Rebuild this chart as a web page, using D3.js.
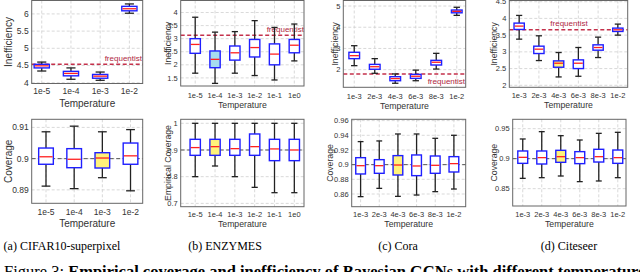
<!DOCTYPE html>
<meta charset="utf-8">
<style>
  body { margin: 0; background: #fff; }
  svg text { font-family: "Liberation Sans", Arial, sans-serif; fill: #333; }
  .cap { font-family: "Liberation Serif", "Times New Roman", serif; fill: #000; }
</style>
<script src="https://d3js.org/d3.v7.min.js"></script>
<svg id="fig" width="640" height="272"></svg>
<script>

// temperature categories
var tempsA = ["1e-5", "1e-4", "1e-3", "1e-2"];
var tempsB = ["1e-5", "1e-4", "1e-3", "1e-2", "1e-1", "1e0"];
var tempsCD = ["1e-3", "2e-3", "4e-3", "6e-3", "8e-3", "1e-2"];

// box stats per category: [whisker low, q1, median, q3, whisker high]
var ineffA = [[4.34, 4.43, 4.49, 4.535, 4.60], [4.10, 4.20, 4.27, 4.33, 4.43],
              [4.07, 4.13, 4.19, 4.24, 4.31], [6.02, 6.09, 6.15, 6.22, 6.29]];
var ineffB = [[1.68, 2.44, 2.78, 3.00, 3.82], [1.29, 1.89, 2.21, 2.53, 3.25],
              [1.68, 2.18, 2.46, 2.72, 3.27], [1.59, 2.30, 2.66, 2.97, 3.69],
              [1.42, 2.00, 2.41, 2.80, 3.43], [2.15, 2.46, 2.75, 2.97, 3.56]];
var ineffC = [[2.19, 2.52, 2.66, 2.82, 3.13], [1.83, 2.02, 2.14, 2.25, 2.52],
              [1.36, 1.48, 1.58, 1.67, 1.80], [1.48, 1.59, 1.69, 1.78, 1.98],
              [2.03, 2.22, 2.35, 2.44, 2.77], [4.56, 4.68, 4.75, 4.81, 4.94]];
var ineffD = [[3.38, 3.67, 3.77, 3.86, 4.09], [2.74, 2.95, 3.08, 3.17, 3.48],
              [2.25, 2.54, 2.66, 2.73, 2.98], [2.27, 2.50, 2.66, 2.76, 3.13],
              [2.83, 3.05, 3.13, 3.21, 3.44], [3.50, 3.61, 3.66, 3.71, 3.83]];

var covA = [[0.8912, 0.8982, 0.9006, 0.9034, 0.9086], [0.8904, 0.8971, 0.8998, 0.9032, 0.9104],
            [0.8939, 0.8970, 0.9002, 0.9019, 0.9086], [0.8897, 0.8982, 0.9009, 0.9050, 0.9093]];
var covB = [[0.80, 0.88, 0.909, 0.94, 1.0], [0.84, 0.88, 0.9125, 0.94, 1.0],
            [0.80, 0.88, 0.905, 0.94, 1.0], [0.76, 0.88, 0.9125, 0.96, 1.0],
            [0.74, 0.86, 0.904, 0.94, 1.0], [0.74, 0.86, 0.900, 0.94, 1.0]];
var covC = [[0.8564, 0.8873, 0.8986, 0.9095, 0.9314], [0.8677, 0.8882, 0.8986, 0.9068, 0.9323],
            [0.8568, 0.8859, 0.8995, 0.9123, 0.9418], [0.8586, 0.8850, 0.8982, 0.9132, 0.9418],
            [0.8632, 0.8882, 0.8991, 0.9118, 0.9359], [0.8668, 0.8900, 0.9014, 0.9109, 0.9400]];
var covD = [[0.8672, 0.8922, 0.9022, 0.9128, 0.9328], [0.8683, 0.8911, 0.9017, 0.9128, 0.9450],
            [0.8711, 0.8939, 0.9033, 0.9139, 0.9383], [0.8617, 0.8917, 0.9017, 0.9117, 0.9311],
            [0.8628, 0.8944, 0.9033, 0.9156, 0.9422], [0.8683, 0.8922, 0.9017, 0.9144, 0.9439]];

// frequentist inefficiency and target coverage
var freqIneff = [4.535, 3.13, 1.80, 3.66];
var targetCov = 0.9;

// y tick labels
var ticksTop = [[4, 4.5, 5, 5.5, 6], [1.5, 2, 2.5, 3, 3.5, 4], [2, 3, 4, 5], [2, 2.5, 3, 3.5, 4, 4.5]];
var ticksBot = [[0.89, 0.9, 0.91], [0.7, 0.8, 0.9, 1], [0.86, 0.88, 0.9, 0.92, 0.94, 0.96], [0.85, 0.9, 0.95]];

var captions = ["(a) CIFAR10-superpixel", "(b) ENZYMES", "(c) Cora", "(d) Citeseer"];

var svg = d3.select("#fig");

// layout of each panel (frame box, y domain, category padding, fonts)
var panels = [
  {cats: tempsA, data: ineffA, ref: freqIneff[0], freq: true, ticks: ticksTop[0], ylab: "Inefficiency",
   x0: 31.7, x1: 142.7, y0: 0.5, y1: 83.5, dom: [3.977, 6.39], pad: 0.4, align: 0.43,
   fs: 8.5, ls: 10, tickY: 94, labY: 107, ylabX: 8, hi: -1, fill: null,
   flab: {x: 142, y: 61, anchor: "end"}},
  {cats: tempsB, data: ineffB, ref: freqIneff[1], freq: true, ticks: ticksTop[1], ylab: "Inefficiency",
   x0: 180.7, x1: 304, y0: 0.5, y1: 86, dom: [1.19, 4.46], pad: 0.61, align: 0.6,
   fs: 7.5, ls: 8.7, tickY: 97.5, labY: 108, ylabX: 168, hi: 1, fill: "#a6dcef",
   flab: {x: 304, y: 32, anchor: "end"}},
  {cats: tempsCD, data: ineffC, ref: freqIneff[2], freq: true, ticks: ticksTop[2], ylab: "Inefficiency",
   x0: 343.3, x1: 465.7, y0: 0.5, y1: 87.3, dom: [1.17, 5.26], pad: 0.485, align: 0.55,
   fs: 7.5, ls: 8.7, tickY: 99, labY: 109, ylabX: 335, hi: -1, fill: null,
   flab: {x: 465, y: 83.5, anchor: "end"}},
  {cats: tempsCD, data: ineffD, ref: freqIneff[3], freq: true, ticks: ticksTop[3], ylab: "Inefficiency",
   x0: 509.3, x1: 627.7, y0: 0.5, y1: 87.3, dom: [1.94, 4.536], pad: 0.5, align: 0.5,
   fs: 7.5, ls: 8.7, tickY: 98, labY: 108, ylabX: 494, hi: 2, fill: "#fff27a",
   flab: {x: 569, y: 26, anchor: "middle"}},
  {cats: tempsA, data: covA, ref: targetCov, freq: false, ticks: ticksBot[0], ylab: "Coverage",
   x0: 31.7, x1: 142.7, y0: 119.3, y1: 203.3, dom: [0.8857, 0.9126], pad: 0.47, align: 0.54,
   fs: 8.5, ls: 10, tickY: 214.5, labY: 227, ylabX: 8, hi: 2, fill: "#fff27a"},
  {cats: tempsB, data: covB, ref: targetCov, freq: false, ticks: ticksBot[1], ylab: "Empirical Coverage",
   x0: 180.7, x1: 304, y0: 119.3, y1: 206.7, dom: [0.6875, 1.015], pad: 0.61, align: 0.6,
   fs: 7.5, ls: 8.7, tickY: 216.5, labY: 226.5, ylabX: 168, hi: 1, fill: "#fff27a"},
  {cats: tempsCD, data: covC, ref: targetCov, freq: false, ticks: ticksBot[2], ylab: "Coverage",
   x0: 351.7, x1: 465.7, y0: 119.3, y1: 206.7, dom: [0.8427, 0.9618], pad: 0.555, align: 0.43,
   fs: 7.5, ls: 8.7, tickY: 216.5, labY: 227, ylabX: 330, hi: 2, fill: "#fff27a"},
  {cats: tempsCD, data: covD, ref: targetCov, freq: false, ticks: ticksBot[3], ylab: "Coverage",
   x0: 512.7, x1: 626, y0: 119.3, y1: 206, dom: [0.8211, 0.9656], pad: 0.48, align: 0.55,
   fs: 7.5, ls: 8.7, tickY: 216.5, labY: 227, ylabX: 494, hi: 2, fill: "#fff27a"}
];

panels.forEach(function(p) {
  var g = svg.append("g");
  var x = d3.scalePoint().domain(p.cats).range([p.x0, p.x1]).padding(p.pad).align(p.align);
  var y = d3.scaleLinear().domain(p.dom).range([p.y1, p.y0]);
  var bw = x.step() * 0.52, cw = bw * 0.6;

  // grid
  g.append("g").selectAll("line").data(p.ticks).join("line")
    .attr("x1", p.x0).attr("x2", p.x1)
    .attr("y1", function(d) { return y(d); }).attr("y2", function(d) { return y(d); })
    .attr("stroke", "#cfcfcf").attr("stroke-width", 0.8).attr("stroke-dasharray", "3,2");
  g.append("g").selectAll("line").data(p.cats).join("line")
    .attr("x1", function(d) { return x(d); }).attr("x2", function(d) { return x(d); })
    .attr("y1", p.y0).attr("y2", p.y1)
    .attr("stroke", "#cfcfcf").attr("stroke-width", 0.8).attr("stroke-dasharray", "3,2");

  // reference line
  g.append("line")
    .attr("x1", p.x0).attr("x2", p.x1).attr("y1", y(p.ref)).attr("y2", y(p.ref))
    .attr("stroke", p.freq ? "#c4314b" : "#555")
    .attr("stroke-width", p.freq ? 1.4 : 1)
    .attr("stroke-dasharray", "4,2.5");
  if (p.freq) {
    g.append("text").attr("x", p.flab.x).attr("y", p.flab.y)
      .attr("text-anchor", p.flab.anchor).attr("font-size", 8)
      .style("fill", "#b0283f").text("frequentist");
  }

  // boxes
  var b = g.append("g").selectAll("g").data(p.data).join("g")
    .attr("transform", function(d, i) { return "translate(" + x(p.cats[i]) + ",0)"; });
  b.append("line").attr("y1", function(d) { return y(d[0]); }).attr("y2", function(d) { return y(d[1]); })
    .attr("stroke", "#222").attr("stroke-width", 1.3);
  b.append("line").attr("y1", function(d) { return y(d[3]); }).attr("y2", function(d) { return y(d[4]); })
    .attr("stroke", "#222").attr("stroke-width", 1.3);
  b.append("line").attr("x1", -cw / 2).attr("x2", cw / 2)
    .attr("y1", function(d) { return y(d[0]); }).attr("y2", function(d) { return y(d[0]); })
    .attr("stroke", "#222").attr("stroke-width", 1.3);
  b.append("line").attr("x1", -cw / 2).attr("x2", cw / 2)
    .attr("y1", function(d) { return y(d[4]); }).attr("y2", function(d) { return y(d[4]); })
    .attr("stroke", "#222").attr("stroke-width", 1.3);
  b.append("rect").attr("x", -bw / 2).attr("width", bw)
    .attr("y", function(d) { return y(d[3]); })
    .attr("height", function(d) { return Math.max(1, y(d[1]) - y(d[3])); })
    .attr("fill", function(d, i) { return i === p.hi ? p.fill : "#fff"; })
    .attr("stroke", "#1f1fff").attr("stroke-width", 1.4);
  b.append("line").attr("x1", -bw / 2 + 0.7).attr("x2", bw / 2 - 0.7)
    .attr("y1", function(d) { return y(d[2]); }).attr("y2", function(d) { return y(d[2]); })
    .attr("stroke", "#ff2020").attr("stroke-width", 1.3);

  // frame
  g.append("rect").attr("x", p.x0).attr("y", p.y0)
    .attr("width", p.x1 - p.x0).attr("height", p.y1 - p.y0)
    .attr("fill", "none").attr("stroke", "#666").attr("stroke-width", 1);

  // tick labels
  g.append("g").selectAll("text").data(p.ticks).join("text")
    .attr("x", p.x0 - 3).attr("y", function(d) { return y(d); }).attr("dy", "0.35em")
    .attr("text-anchor", "end").attr("font-size", p.fs).text(function(d) { return d; });
  g.append("g").selectAll("text").data(p.cats).join("text")
    .attr("x", function(d) { return x(d); }).attr("y", p.tickY)
    .attr("text-anchor", "middle").attr("font-size", p.fs).text(function(d) { return d; });

  // axis labels
  g.append("text").attr("x", (p.x0 + p.x1) / 2).attr("y", p.labY)
    .attr("text-anchor", "middle").attr("font-size", p.ls).text("Temperature");
  g.append("text")
    .attr("transform", "translate(" + p.ylabX + "," + ((p.y0 + p.y1) / 2) + ") rotate(-90)")
    .attr("dy", "0.35em").attr("text-anchor", "middle").attr("font-size", p.ls).text(p.ylab);
});

// subfigure captions
var capX = [62, 225, 398, 569];
svg.selectAll("text.cap").data(captions).join("text").attr("class", "cap")
  .attr("x", function(d, i) { return capX[i]; }).attr("y", 250)
  .attr("text-anchor", "middle").attr("font-size", 12).text(function(d) { return d; });

// figure caption (cut off by the picture edge)
var fc = svg.append("text").attr("class", "cap").attr("x", 4).attr("y", 276.5).attr("font-size", 16.5);
fc.append("tspan").text("Figure 3: ");
fc.append("tspan").attr("font-weight", "bold")
  .text("Empirical coverage and inefficiency of Bayesian GCNs with different temperatures.");

</script>
